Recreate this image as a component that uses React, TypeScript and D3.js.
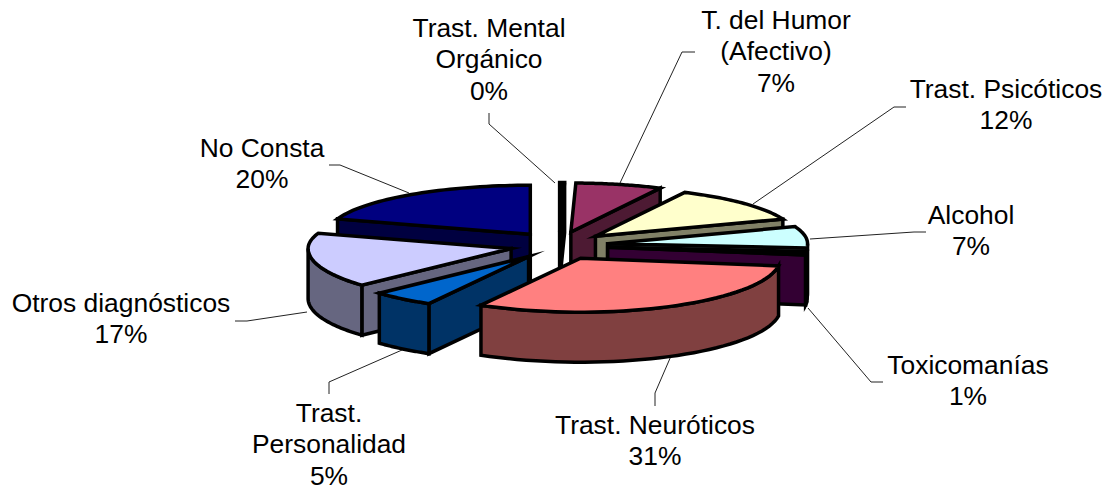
import React from "react";
import * as d3 from "d3";

const categories = ["Trast. Mental Orgánico","T. del Humor (Afectivo)","Trast. Psicóticos","Alcohol","Toxicomanías","Trast. Neuróticos","Trast. Personalidad","Otros diagnósticos","No Consta"];
const shares = [0.4, 7, 12, 7, 1, 31, 5, 17, 20];
const shownPercent = ["0%","7%","12%","7%","1%","31%","5%","17%","20%"];
const topColors = ["#000000","#993366","#ffffcc","#ccffff","#660066","#ff8080","#0066cc","#ccccff","#000080"];
const wallColors = ["#000000","#4d1a33","#808066","#668080","#330033","#804040","#003366","#666680","#000040"];
const labelLines = [["Trast. Mental","Orgánico"],["T. del Humor","(Afectivo)"],["Trast. Psicóticos"],["Alcohol"],["Toxicomanías"],["Trast. Neuróticos"],["Trast.","Personalidad"],["Otros diagnósticos"],["No Consta"]];

// layout
const labelAnchors = [[489,37],[776,29],[1006,98],[971,224],[968,374],[655,434],[329,422],[121,312],[262,157]];
const leaders = [
  [[489,113],[489,124],[555,183]],
  [[695,52],[682,52],[620,183]],
  [[906,107],[894,107],[753,204]],
  [[926,232],[914,232],[810,239]],
  [[883,382],[871,382],[808,308]],
  [[655,406],[655,393],[671,356]],
  [[329,394],[329,382],[402,350]],
  [[235,321],[247,321],[307,312]],
  [[329,165],[340,165],[409,193]],
];
const paintOrder = [8,0,1,2,3,4,7,6,5];

const CX = 559, CY = 245.6, RX_RIGHT = 200, RX_LEFT = 203, RY_BACK = 49, RY_FRONT = 54, DEPTH = 50, EX = 49, EY = 14;
const TAU = Math.PI * 2;

export default function App() {
  const arcs = d3.pie<number>().sort(null)(shares);
  const line = d3.line();
  const slices = arcs.map((a) => {
    const mid = (a.startAngle + a.endAngle) / 2;
    const ax = CX + EX * Math.sin(mid), ay = CY - EY * Math.cos(mid);
    const pt = (t: number, h = 0): [number, number] => {
      const s = Math.sin(t), c = Math.cos(t);
      return [ax + (s > 0 ? RX_RIGHT : RX_LEFT) * s, ay - (c > 0 ? RY_BACK : RY_FRONT) * c + h];
    };
    const angles = (s: number, e: number) => d3.range(0, 41).map(k => s + ((e - s) * k) / 40);
    const top = line([[ax, ay], ...angles(a.startAngle, a.endAngle).map(t => pt(t))])! + "Z";
    const walls: string[] = [];
    const radial = (t: number) => line([[ax, ay], pt(t), pt(t, DEPTH), [ax, ay + DEPTH]])! + "Z";
    if (Math.sin(a.startAngle) < 0) walls.push(radial(a.startAngle));
    if (Math.sin(a.endAngle) > 0) walls.push(radial(a.endAngle));
    const s = Math.max(a.startAngle, TAU / 4), e = Math.min(a.endAngle, (TAU * 3) / 4);
    if (e > s) {
      const arcPts = angles(s, e);
      walls.push(line([...arcPts.map(t => pt(t)), ...arcPts.slice().reverse().map(t => pt(t, DEPTH))])! + "Z");
    }
    return { top, walls };
  });
  const font = { fontFamily: "'Liberation Sans', Arial, sans-serif", fontSize: 26.4, fill: "#000" };
  return (
    <svg width={1116} height={492} style={{ position: "absolute", left: 0, top: 0 }}>
      <rect width={1116} height={492} fill="#fff" />
      {leaders.map((l, i) => (
        <path key={i} d={line(l as [number, number][])!} fill="none" stroke="#222" strokeWidth={1} />
      ))}
      {paintOrder.map(i => (
        <g key={i} stroke="#000" strokeWidth={3.5} strokeLinejoin="miter" strokeMiterlimit={10}>
          {slices[i].walls.map((d, j) => <path key={j} d={d} fill={wallColors[i]} />)}
          <path d={slices[i].top} fill={topColors[i]} />
        </g>
      ))}
      {categories.map((c, i) => {
        const [x, y] = labelAnchors[i];
        const lines = [...labelLines[i], shownPercent[i]];
        return (
          <text key={c} x={x} y={y} textAnchor="middle" {...font}>
            {lines.map((t, k) => <tspan key={k} x={x} y={y + k * 31.3}>{t}</tspan>)}
          </text>
        );
      })}
    </svg>
  );
}
